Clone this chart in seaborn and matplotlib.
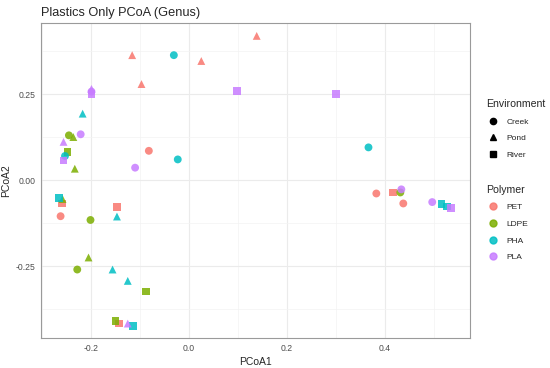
import pandas as pd
import matplotlib
matplotlib.use('Agg')
import matplotlib.pyplot as plt
from matplotlib.lines import Line2D
from matplotlib.ticker import MultipleLocator
import seaborn as sns

# PCoA scores
pcoa1 = [-0.116, 0.138, 0.025, -0.097, -0.082, -0.259, -0.262, -0.147, -0.142, 0.382, 0.416, 0.437,
         -0.245, -0.236, -0.248, -0.233, -0.258, -0.201, -0.205, -0.228, -0.088, -0.150, 0.431,
         -0.031, -0.217, -0.253, -0.023, 0.366, -0.266, -0.147, -0.156, -0.125, -0.114, 0.515, 0.527,
         -0.199, -0.199, -0.199, -0.221, -0.256, -0.256, -0.110, 0.098, 0.300, -0.125, 0.433, 0.496, 0.534]
pcoa2 = [0.363, 0.419, 0.346, 0.279, 0.085, -0.068, -0.105, -0.079, -0.417, -0.039, -0.036, -0.068,
         0.130, 0.125, 0.081, 0.033, -0.055, -0.116, -0.225, -0.260, -0.324, -0.410, -0.036,
         0.363, 0.193, 0.070, 0.060, 0.095, -0.053, -0.106, -0.260, -0.293, -0.423, -0.070, -0.077,
         0.265, 0.257, 0.250, 0.133, 0.111, 0.057, 0.036, 0.259, 0.250, -0.417, -0.027, -0.064, -0.081]
environment = ['Pond', 'Pond', 'Pond', 'Pond', 'Creek', 'River', 'Creek', 'River', 'River', 'Creek', 'River', 'Creek',
               'Creek', 'Pond', 'River', 'Pond', 'Pond', 'Creek', 'Pond', 'Creek', 'River', 'River', 'Creek',
               'Creek', 'Pond', 'Creek', 'Creek', 'Creek', 'River', 'Pond', 'Pond', 'Pond', 'River', 'River', 'River',
               'Pond', 'Creek', 'River', 'Creek', 'Pond', 'River', 'Creek', 'River', 'River', 'Pond', 'Creek', 'Creek', 'River']
polymer = ['PET'] * 12 + ['LDPE'] * 11 + ['PHA'] * 12 + ['PLA'] * 13

env_levels = ['Creek', 'Pond', 'River']
poly_levels = ['PET', 'LDPE', 'PHA', 'PLA']
poly_colors = ['#F8766D', '#7CAE00', '#00BFC4', '#C77CFF']
env_markers = ['o', '^', 's']

df = pd.DataFrame({'PCoA1': pcoa1, 'PCoA2': pcoa2,
                   'Environment': environment, 'Polymer': polymer})

sns.set_style('white')
plt.rcParams['font.family'] = ['Liberation Sans', 'DejaVu Sans']

fig = plt.figure(figsize=(5.5, 3.68), dpi=100)
ax = fig.add_axes([0.0745, 0.0815, 0.78, 0.8565])

palette = dict(zip(poly_levels, poly_colors))
markers = dict(zip(env_levels, env_markers))
sns.scatterplot(data=df, x='PCoA1', y='PCoA2', hue='Polymer', style='Environment',
                hue_order=poly_levels, style_order=env_levels, palette=palette,
                markers=markers, s=32, alpha=0.85, linewidth=0, legend=False, ax=ax, zorder=3)

ax.set_xlim(-0.302, 0.573)
ax.set_ylim(-0.459, 0.457)
ax.xaxis.set_minor_locator(MultipleLocator(0.1))
ax.yaxis.set_minor_locator(MultipleLocator(0.125))
ax.set_xticks([-0.2, 0.0, 0.2, 0.4])
ax.set_xticklabels(['-0.2', '0.0', '0.2', '0.4'])
ax.set_yticks([-0.25, 0.0, 0.25])
ax.set_yticklabels(['-0.25', '0.00', '0.25'])
ax.grid(which='major', color='#ebebeb', linewidth=0.8)
ax.grid(which='minor', color='#f3f3f3', linewidth=0.5)
ax.set_axisbelow(True)
for sp in ax.spines.values():
    sp.set_color('#9a9a9a')
    sp.set_linewidth(0.8)
ax.tick_params(which='major', length=2, width=0.6, color='#555555', labelsize=6.2, labelcolor='#4d4d4d', pad=2)
ax.tick_params(which='minor', length=0)

ax.set_xlabel('PCoA1', fontsize=7.5, labelpad=3)
ax.set_ylabel('PCoA2', fontsize=7.5, labelpad=3)
ax.set_title('Plastics Only PCoA (Genus)', fontsize=9.2, loc='left', pad=5)

env_handles = [Line2D([], [], marker=m, color='black', linestyle='', markersize=4.5) for m in env_markers]
poly_handles = [Line2D([], [], marker='o', color=c, linestyle='', markersize=5, alpha=0.85) for c in poly_colors]

leg1 = fig.legend(env_handles, env_levels, title='Environment', loc='upper left',
                  bbox_to_anchor=(0.878, 0.74), frameon=False, fontsize=6, title_fontsize=7.6,
                  handletextpad=0.8, labelspacing=1.05, handlelength=1.6, borderaxespad=0)
leg1._legend_box.align = 'left'
leg2 = fig.legend(poly_handles, poly_levels, title='Polymer', loc='upper left',
                  bbox_to_anchor=(0.878, 0.507), frameon=False, fontsize=6, title_fontsize=7.6,
                  handletextpad=0.8, labelspacing=1.05, handlelength=1.6, borderaxespad=0)
leg2._legend_box.align = 'left'

fig.savefig('out.png', dpi=100)
